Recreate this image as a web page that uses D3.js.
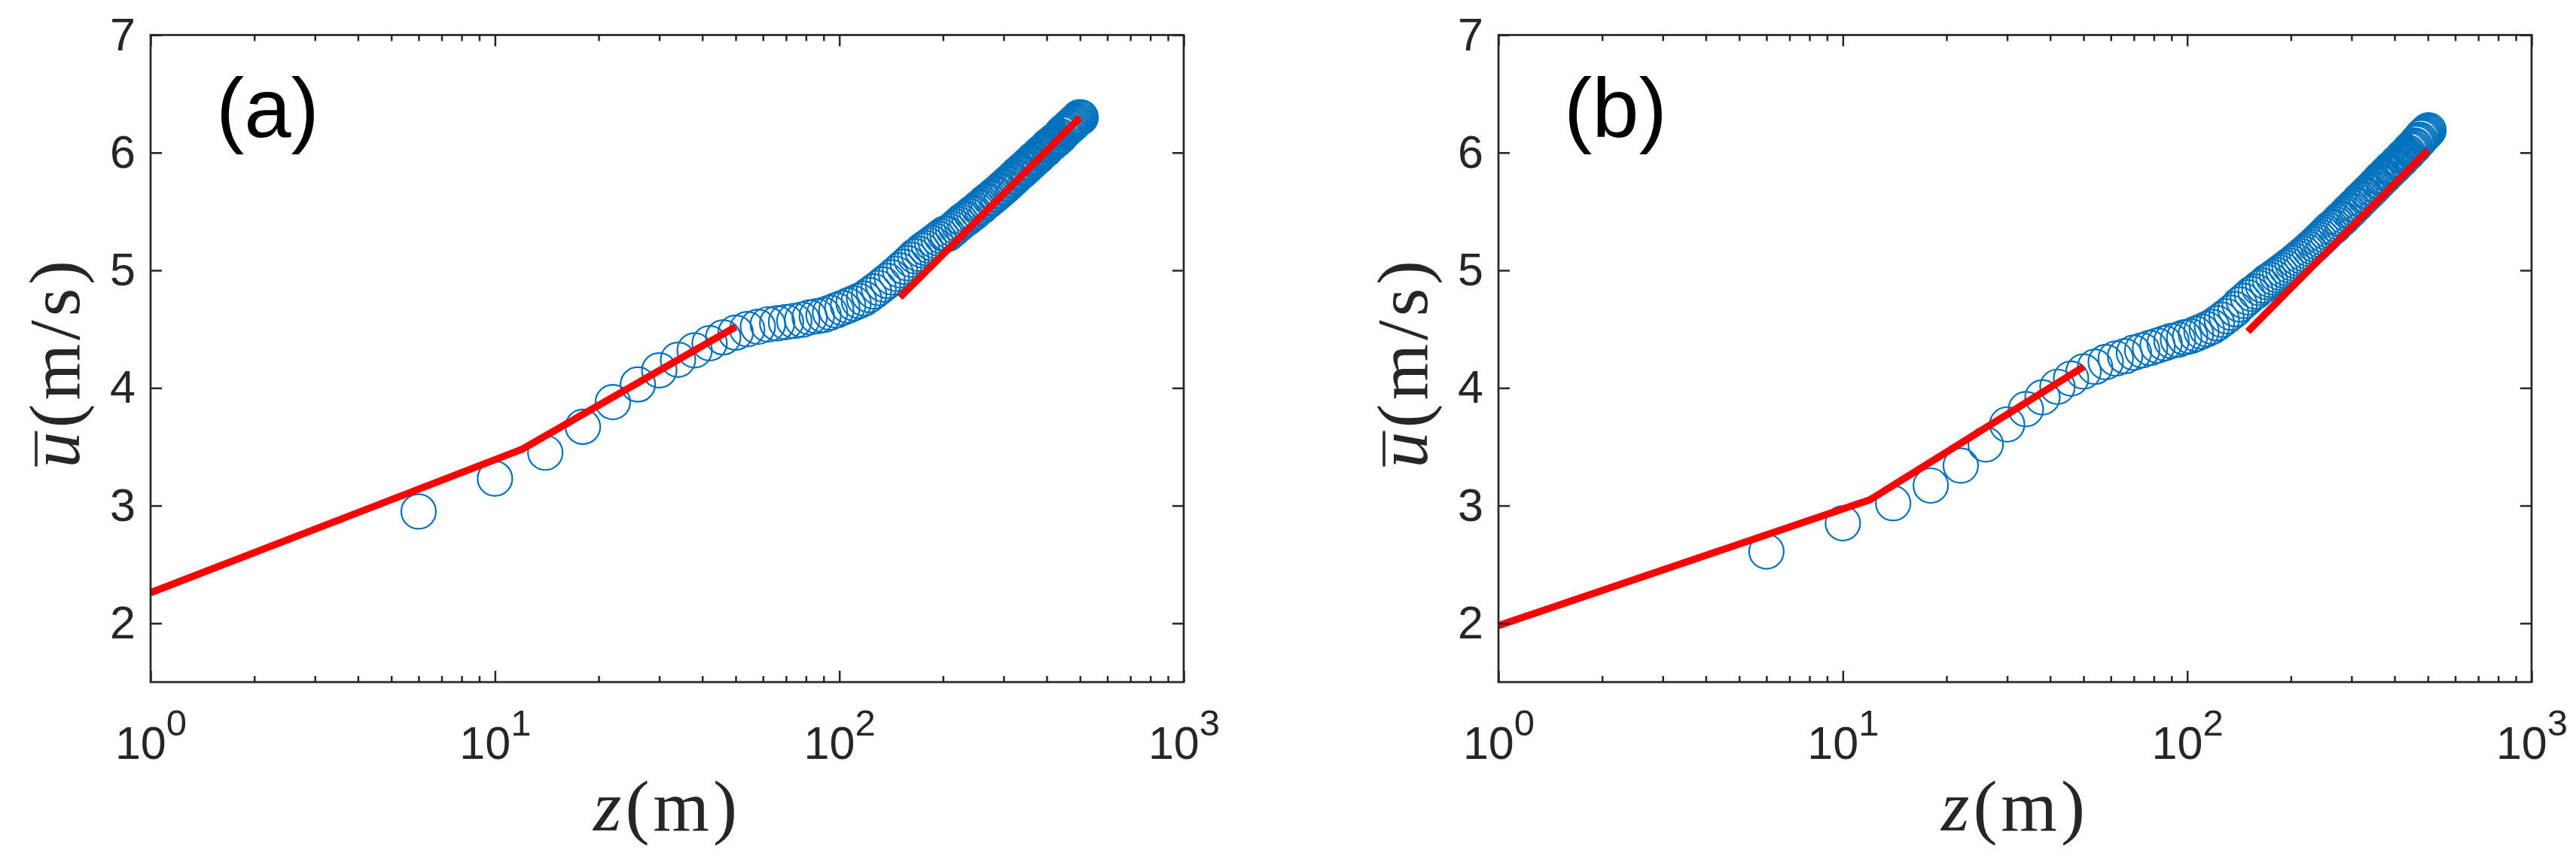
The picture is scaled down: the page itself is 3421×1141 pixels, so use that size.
<!DOCTYPE html>
<html>
<head>
<meta charset="utf-8">
<script src="https://cdn.jsdelivr.net/npm/d3@7"></script>
<style>
  body { margin: 0; background: #fff; }
  svg { display: block; }
</style>
</head>
<body>
<svg id="chart" width="3421" height="1141"></svg>
<script>
/* Data */

var HEIGHTS = [6,10,14,18,22,26,30,34,38,42,
               46,50,54,58,62,66,70,74,78,82,
               86,90,94,98,102,106,110,114,118,122,
               126,130,134,138,142,146,150,154,158,162,
               166,170,174,178,182,186,190,194,198,202,
               206,210,214,218,222,226,230,234,238,242,
               246,250,254,258,262,266,270,274,278,282,
               286,290,294,298,302,306,310,314,318,322,
               326,330,334,338,342,346,350,354,358,362,
               366,370,374,378,382,386,390,394,398,402,
               406,410,414,418,422,426,430,434,438,442,
               446,450,454,458,462,466,470,474,478,482,
               486,490,494,498,502];

var U_A = [2.95,3.23,3.45,3.67,3.88,4.03,4.15,4.24,4.32,4.38,
           4.43,4.47,4.50,4.52,4.54,4.55,4.56,4.57,4.58,4.60,
           4.61,4.62,4.64,4.66,4.68,4.70,4.72,4.74,4.76,4.79,
           4.82,4.85,4.88,4.91,4.94,4.97,5.00,5.03,5.06,5.09,
           5.12,5.14,5.17,5.19,5.21,5.23,5.25,5.27,5.29,5.31,
           5.31,5.33,5.35,5.37,5.39,5.41,5.43,5.44,5.46,5.48,
           5.49,5.51,5.53,5.54,5.56,5.58,5.59,5.61,5.62,5.64,
           5.65,5.67,5.68,5.70,5.71,5.73,5.74,5.76,5.77,5.79,
           5.80,5.82,5.83,5.84,5.86,5.87,5.88,5.90,5.91,5.92,
           5.94,5.95,5.96,5.97,5.99,6.00,6.01,6.02,6.03,6.05,
           6.06,6.07,6.08,6.09,6.10,6.11,6.12,6.13,6.14,6.16,
           6.17,6.18,6.19,6.20,6.21,6.22,6.23,6.24,6.25,6.26,
           6.27,6.28,6.29,6.30,6.30];

var U_B = [2.61,2.85,3.02,3.17,3.34,3.52,3.69,3.82,3.92,4.01,
           4.08,4.14,4.18,4.22,4.25,4.27,4.30,4.32,4.34,4.36,
           4.38,4.40,4.41,4.43,4.44,4.46,4.48,4.50,4.52,4.55,
           4.58,4.61,4.64,4.67,4.71,4.74,4.77,4.80,4.82,4.85,
           4.87,4.90,4.92,4.94,4.96,4.98,5.00,5.02,5.04,5.06,
           5.08,5.10,5.12,5.14,5.16,5.18,5.20,5.22,5.24,5.26,
           5.28,5.30,5.32,5.34,5.36,5.37,5.39,5.41,5.43,5.44,
           5.46,5.48,5.50,5.51,5.53,5.55,5.56,5.58,5.60,5.61,
           5.63,5.64,5.66,5.67,5.69,5.70,5.72,5.73,5.75,5.76,
           5.78,5.79,5.80,5.82,5.83,5.84,5.86,5.87,5.88,5.89,
           5.91,5.92,5.93,5.94,5.96,5.97,5.98,5.99,6.00,6.02,
           6.03,6.04,6.05,6.06,6.08,6.09,6.10,6.11,6.13,6.14,
           6.15,6.16,6.17,6.18,6.19];

/* red log-law fits: lower (two pieces, knee at 12 m) and upper */
var LOWER_FIT_Z = [1, 12, 50];
var LOWER_FIT_A = [2.26, 3.48, 4.52];
var LOWER_FIT_B = [1.98, 3.05, 4.18];
var UPPER_FIT_Z = [150, 500];
var UPPER_FIT_A = [4.77, 6.30];
var UPPER_FIT_B = [4.48, 6.02];

var X_DOMAIN = [1, 1000];
var Y_DOMAIN = [1.5, 7];
var Y_TICKS = [2, 3, 4, 5, 6, 7];
var X_MAJOR = [1, 10, 100, 1000];
var PANEL_LABELS = ["(a)", "(b)"];

/* Measures */

var PANEL_LEFT = [200, 1990],
    PANEL_TOP = 46.5,
    PANEL_W = 1372,
    PANEL_H = 859.5;

var MAJOR_TICK = 15,
    MINOR_TICK = 8,
    CIRCLE_R = 23,
    AXIS_COLOR = "#262626",
    BLUE = "#0072BD",
    RED = "#FF0000";

var svg = d3.select("#chart");

var x = d3.scaleLog().domain(X_DOMAIN).range([0, PANEL_W]);
var y = d3.scaleLinear().domain(Y_DOMAIN).range([PANEL_H, 0]);

var xMinor = [];
X_MAJOR.slice(0, -1).forEach(function(d) {
	for (var k = 2; k <= 9; k++) xMinor.push(d * k);
});

function drawPanel(i, uVals, lowerU, upperU) {
	var g = svg.append("g")
		.attr("transform", "translate(" + PANEL_LEFT[i] + "," + PANEL_TOP + ")");

	// circles
	var pts = HEIGHTS.map(function(z, j) { return { z: z, u: uVals[j] }; });
	g.append("g").selectAll("circle")
		.data(pts)
		.enter().append("circle")
		.attr("cx", function(d) { return x(d.z); })
		.attr("cy", function(d) { return y(d.u); })
		.attr("r", CIRCLE_R)
		.attr("fill", "none")
		.attr("stroke", BLUE)
		.attr("stroke-width", 2.2);

	// fitted lines
	var line = d3.line()
		.x(function(d) { return x(d[0]); })
		.y(function(d) { return y(d[1]); });

	[[LOWER_FIT_Z, lowerU], [UPPER_FIT_Z, upperU]].forEach(function(f) {
		g.append("path")
			.datum(d3.zip(f[0], f[1]))
			.attr("d", line)
			.attr("fill", "none")
			.attr("stroke", RED)
			.attr("stroke-width", 9.5)
			.attr("stroke-linejoin", "round");
	});

	// axes: ticks point inward on all four sides
	function ticksOnly(axis, vals, size) {
		return axis.tickValues(vals).tickSizeInner(size).tickSizeOuter(0).tickFormat("");
	}

	var bottom = g.append("g").attr("transform", "translate(0," + PANEL_H + ")");
	bottom.append("g").call(ticksOnly(d3.axisBottom(x), xMinor, -MINOR_TICK));
	var bottomMajor = bottom.append("g").call(ticksOnly(d3.axisBottom(x), X_MAJOR, -MAJOR_TICK));
	bottomMajor.selectAll(".tick text")
		.attr("y", 102)
		.attr("dy", 0)
		.each(function(d) {
			var t = d3.select(this);
			t.append("tspan").text("10");
			t.append("tspan")
				.attr("dy", -31)
				.attr("font-size", 49)
				.text(Math.round(Math.log10(d)));
		});

	var top = g.append("g");
	top.append("g").call(ticksOnly(d3.axisTop(x), xMinor, -MINOR_TICK));
	top.append("g").call(ticksOnly(d3.axisTop(x), X_MAJOR, -MAJOR_TICK));

	g.append("g")
		.call(d3.axisLeft(y).tickValues(Y_TICKS).tickSizeInner(-MAJOR_TICK)
			.tickSizeOuter(0).tickPadding(20).tickFormat(d3.format("d")));

	g.append("g")
		.attr("transform", "translate(" + PANEL_W + ",0)")
		.call(ticksOnly(d3.axisRight(y), Y_TICKS, -MAJOR_TICK));

	g.selectAll(".domain").remove();
	g.selectAll(".tick line")
		.attr("stroke", AXIS_COLOR)
		.attr("stroke-width", 2.5);
	g.selectAll(".tick text")
		.attr("fill", AXIS_COLOR)
		.attr("font-family", "'Liberation Sans', Arial, sans-serif")
		.attr("font-size", 61);

	g.append("rect")
		.attr("width", PANEL_W)
		.attr("height", PANEL_H)
		.attr("fill", "none")
		.attr("stroke", AXIS_COLOR)
		.attr("stroke-width", 2.7);

	// panel letter
	g.append("text")
		.attr("x", 87)
		.attr("y", 182 - PANEL_TOP)
		.attr("font-family", "'Liberation Sans', Arial, sans-serif")
		.attr("font-size", 112)
		.attr("fill", "#000")
		.text(PANEL_LABELS[i]);

	// x label, z(m)
	var xl = svg.append("text")
		.attr("x", PANEL_LEFT[i] + PANEL_W / 2)
		.attr("y", 1103)
		.attr("text-anchor", "middle")
		.attr("font-family", "'Liberation Serif', 'Times New Roman', serif")
		.attr("font-size", 96)
		.attr("letter-spacing", 5)
		.attr("fill", AXIS_COLOR);
	xl.append("tspan").attr("font-style", "italic").text("z");
	xl.append("tspan").text("(m)");

	// y label, overline u (m/s)
	var yg = svg.append("g")
		.attr("transform", "translate(" + (PANEL_LEFT[i] - 95) + "," + (PANEL_TOP + PANEL_H / 2 + 5) + ") rotate(-90)");
	var yl = yg.append("text")
		.attr("text-anchor", "middle")
		.attr("font-family", "'Liberation Serif', 'Times New Roman', serif")
		.attr("font-size", 96)
		.attr("letter-spacing", 5)
		.attr("fill", AXIS_COLOR);
	yl.append("tspan").attr("font-style", "italic").text("u");
	yl.append("tspan").text("(m/s)");
	var ext = yl.node().getExtentOfChar(0);
	yg.append("line")
		.attr("x1", ext.x + 2)
		.attr("x2", ext.x + ext.width - 4)
		.attr("y1", -57)
		.attr("y2", -57)
		.attr("stroke", AXIS_COLOR)
		.attr("stroke-width", 3.5);
}

drawPanel(0, U_A, LOWER_FIT_A, UPPER_FIT_A);
drawPanel(1, U_B, LOWER_FIT_B, UPPER_FIT_B);
</script>
</body>
</html>
